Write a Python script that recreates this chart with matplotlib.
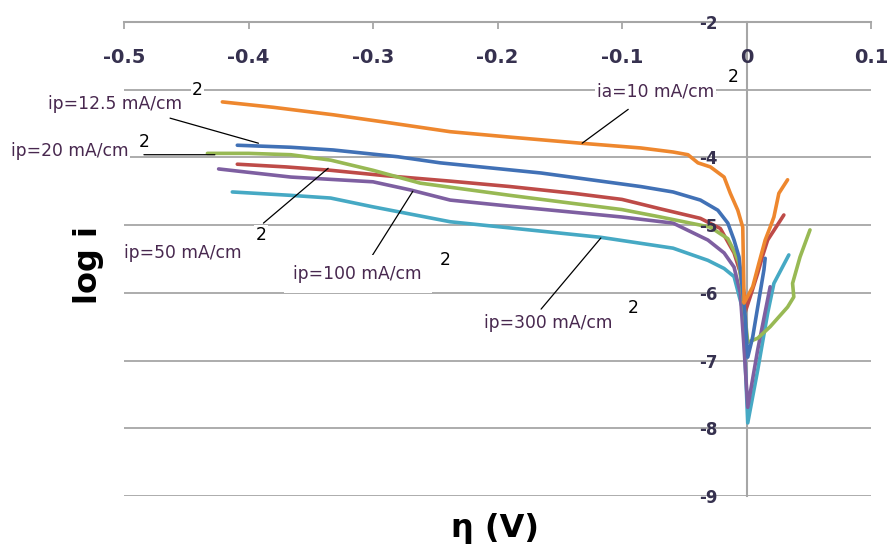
import matplotlib
matplotlib.use("Agg")
import matplotlib.pyplot as plt

# Overpotential (V) and log current density for each polarization curve
ia10_x = [-0.421, -0.380, -0.332, -0.290, -0.238, -0.190, -0.133, -0.085, -0.059, -0.047,
          -0.039, -0.029, -0.018, -0.013, -0.007, -0.003, -0.002, -0.002, 0.005, 0.010,
          0.015, 0.019, 0.022, 0.026, 0.033]
ia10_y = [-3.18, -3.26, -3.37, -3.48, -3.62, -3.70, -3.79, -3.86, -3.92, -3.96,
          -4.08, -4.14, -4.29, -4.53, -4.78, -5.03, -6.06, -6.15, -5.91, -5.56,
          -5.22, -5.03, -4.88, -4.53, -4.33]

ip12_x = [-0.409, -0.366, -0.332, -0.280, -0.246, -0.165, -0.085, -0.059, -0.037, -0.023,
          -0.015, -0.010, -0.006, -0.004, -0.001, 0.001, 0.005, 0.009, 0.014, 0.015]
ip12_y = [-3.82, -3.85, -3.89, -3.99, -4.08, -4.23, -4.43, -4.51, -4.63, -4.78,
          -4.97, -5.22, -5.47, -5.81, -6.36, -6.95, -6.65, -6.21, -5.66, -5.49]

ip20_x = [-0.433, -0.400, -0.366, -0.334, -0.300, -0.262, -0.238, -0.190, -0.139, -0.100,
          -0.069, -0.029, -0.015, -0.010, -0.006, -0.002, 0.001, 0.009, 0.019, 0.033,
          0.038, 0.037, 0.043, 0.051]
ip20_y = [-3.94, -3.94, -3.96, -4.04, -4.19, -4.38, -4.44, -4.56, -4.68, -4.77,
          -4.88, -5.03, -5.20, -5.38, -5.56, -6.20, -6.73, -6.67, -6.50, -6.21,
          -6.06, -5.86, -5.47, -5.07]

ip50_x = [-0.409, -0.370, -0.334, -0.290, -0.238, -0.190, -0.139, -0.100, -0.069, -0.037,
          -0.021, -0.010, -0.005, -0.002, -0.001, 0.004, 0.009, 0.013, 0.017, 0.023, 0.030]
ip50_y = [-4.10, -4.14, -4.19, -4.27, -4.35, -4.43, -4.53, -4.62, -4.76, -4.90,
          -5.05, -5.41, -5.70, -6.00, -6.28, -6.00, -5.71, -5.45, -5.22, -5.05, -4.85]

ip100_x = [-0.424, -0.400, -0.366, -0.300, -0.270, -0.238, -0.190, -0.139, -0.100, -0.059,
           -0.031, -0.018, -0.010, -0.005, -0.002, 0.001, 0.009, 0.019]
ip100_y = [-4.17, -4.22, -4.29, -4.36, -4.48, -4.63, -4.72, -4.81, -4.88, -4.97,
           -5.22, -5.41, -5.62, -6.00, -6.80, -7.69, -6.84, -5.91]

ip300_x = [-0.413, -0.366, -0.334, -0.300, -0.238, -0.180, -0.117, -0.059, -0.031, -0.018,
           -0.010, -0.003, -0.001, 0.001, 0.009, 0.017, 0.022, 0.034]
ip300_y = [-4.51, -4.56, -4.60, -4.73, -4.95, -5.06, -5.18, -5.34, -5.52, -5.64,
           -5.76, -6.25, -7.04, -7.92, -7.14, -6.30, -5.86, -5.44]

series = [
    (ip300_x, ip300_y, "#46A9C4"),
    (ip100_x, ip100_y, "#7E5FA1"),
    (ip50_x, ip50_y, "#BE4B48"),
    (ip20_x, ip20_y, "#98B954"),
    (ip12_x, ip12_y, "#4171B6"),
    (ia10_x, ia10_y, "#EE872E"),
]

x_ticks = [-0.5, -0.4, -0.3, -0.2, -0.1, 0.0, 0.1]
x_tick_labels = ["-0.5", "-0.4", "-0.3", "-0.2", "-0.1", "0", "0.1"]
y_ticks = [-2, -3, -4, -5, -6, -7, -8, -9]
y_tick_labels = ["-2", "-3", "-4", "-5", "-6", "-7", "-8", "-9"]
grid_levels = [-3, -4, -5, -6, -7, -8, -9]

# label text, text anchor (left, center), superscript position, leader start, leader end, box pad
labels = [
    ("ip=12.5 mA/cm", (-0.561, -3.21), (-0.441, -3.00), (-0.463, -3.42), (-0.392, -3.79), 1.5),
    ("ip=20 mA/cm", (-0.591, -3.91), (-0.4835, -3.77), (-0.484, -3.96), (-0.427, -3.96), 1.5),
    ("ip=50 mA/cm", (-0.500, -5.41), (-0.390, -5.15), (-0.388, -4.97), (-0.336, -4.16), 1.5),
    ("ip=100 mA/cm", (-0.364, -5.72), (-0.242, -5.52), (-0.302, -5.49), (-0.268, -4.50), 7.0),
    ("ip=300 mA/cm", (-0.211, -6.45), (-0.091, -6.22), (-0.165, -6.24), (-0.117, -5.19), 1.5),
    ("ia=10 mA/cm", (-0.120, -3.02), (-0.0105, -2.81), (-0.132, -3.79), (-0.095, -3.29), 1.5),
]

grid_color = "#a6a6a6"
tick_color = "#36314f"
text_color = "#48284f"

fig = plt.figure(figsize=(8.9, 5.45), dpi=100)
ax = fig.add_axes([124 / 890, 49 / 545, 747 / 890, 474 / 545])
ax.set_xlim(-0.5, 0.1)
ax.set_ylim(-9, -2)

for level in grid_levels:
    ax.axhline(level, color=grid_color, lw=1.3, zorder=1)

for xs, ys, c in series:
    ax.plot(xs, ys, color=c, lw=2.6, solid_joinstyle="round", solid_capstyle="round", zorder=2)

# axes crossing: x axis along the top (y=-2), y axis at zero overpotential
for side in ("top", "right"):
    ax.spines[side].set_visible(False)
ax.spines["bottom"].set_position(("data", -2))
ax.spines["left"].set_position(("data", 0))
for side in ("bottom", "left"):
    ax.spines[side].set_color(grid_color)
    ax.spines[side].set_linewidth(1.5)
ax.spines["left"].set_zorder(1.5)
ax.set_axisbelow(False)

ax.set_xticks(x_ticks, x_tick_labels, fontweight="bold")
ax.set_yticks(y_ticks, y_tick_labels, fontweight="bold")
ax.tick_params(axis="x", direction="out", length=5, width=1.3, color=grid_color,
               labelsize=14, pad=14, labelcolor=tick_color)
ax.tick_params(axis="y", length=0, pad=21, labelsize=12, labelcolor=tick_color)

for text, (tx, ty), (sx, sy), (lx0, ly0), (lx1, ly1), pad in labels:
    ax.annotate("", xy=(lx1, ly1), xytext=(lx0, ly0),
                arrowprops=dict(arrowstyle="-", color="black", lw=0.9,
                                shrinkA=0, shrinkB=0),
                annotation_clip=False, zorder=4)
    ax.text(tx, ty, text, ha="left", va="center", fontsize=12.3, color=text_color,
            clip_on=False, zorder=5,
            bbox=dict(facecolor="white", edgecolor="none", pad=pad))
    ax.text(sx, sy, "2", ha="center", va="center", fontsize=12.3, color="black",
            clip_on=False, zorder=6,
            bbox=dict(facecolor="white", edgecolor="none", pad=1.0))

fig.text(88 / 890, 1 - 265 / 545, "log i", rotation=90, ha="center", va="center",
         fontsize=23, fontweight="bold", color="black")
fig.text(495 / 890, 17 / 545, "η (V)", ha="center", va="center",
         fontsize=23, fontweight="bold", color="black")

fig.savefig("out.png", dpi=100, facecolor="white")
